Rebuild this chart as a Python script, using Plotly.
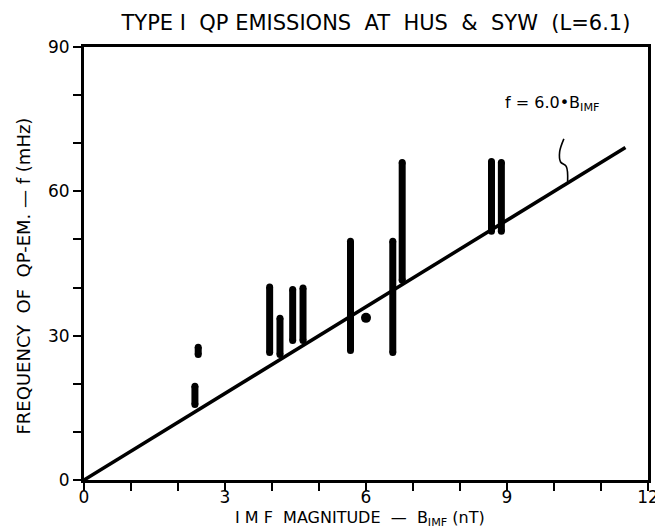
import plotly.graph_objects as go

# ---- data ----
bar_x = [2.36, 2.43, 3.95, 4.17, 4.44, 4.66, 5.67, 6.57, 6.77, 8.67, 8.88]
bar_low = [15.7, 26.1, 26.5, 26.1, 29.0, 29.0, 26.9, 26.5, 41.5, 51.7, 51.7]
bar_high = [19.5, 27.6, 40.1, 33.6, 39.6, 39.9, 49.6, 49.6, 66.0, 66.2, 66.0]
dot_x = [6.0]
dot_f = [33.7]
fit_slope = 6.0
fit_x = [0.0, 11.52]

x_tickvals = [0, 3, 6, 9, 12]
y_tickvals = [0, 30, 60, 90]

FONT = "DejaVu Sans"

fig = go.Figure()

# vertical bars (ranges of frequency)
xs, ys = [], []
for x, lo, hi in zip(bar_x, bar_low, bar_high):
    xs += [x, x, None]
    ys += [lo, hi, None]
fig.add_trace(go.Scatter(x=xs, y=ys, mode="lines",
                         line=dict(color="black", width=7), hoverinfo="skip",
                         showlegend=False))
# round caps
cx, cy = [], []
for x, lo, hi in zip(bar_x, bar_low, bar_high):
    cx += [x, x]
    cy += [lo, hi]
fig.add_trace(go.Scatter(x=cx, y=cy, mode="markers",
                         marker=dict(color="black", size=7, line=dict(width=0)),
                         hoverinfo="skip", showlegend=False))

# single point
fig.add_trace(go.Scatter(x=dot_x, y=dot_f, mode="markers",
                         marker=dict(color="black", size=10, line=dict(width=0)),
                         showlegend=False))

# fit line f = 6.0 * B
fig.add_trace(go.Scatter(x=fit_x, y=[fit_slope * v for v in fit_x], mode="lines",
                         line=dict(color="black", width=3.5), showlegend=False))

# squiggly pointer from the label to the line
sq_x = [10.21, 10.12, 10.14, 10.26, 10.29]
sq_f = [70.9, 68.2, 66.1, 65.2, 62.0]
fig.add_trace(go.Scatter(x=sq_x, y=sq_f, mode="lines",
                         line=dict(color="black", width=1.6, shape="spline"),
                         showlegend=False))

fig.add_annotation(x=9.95, y=78.3, xref="x", yref="y",
                   text="f = 6.0•B<sub>IMF</sub>", showarrow=False,
                   font=dict(family=FONT, size=16, color="black"))

# axis titles as annotations (placed like the reference)
fig.add_annotation(x=0.49, y=0, xref="paper", yref="paper", yshift=-38,
                   xanchor="center", yanchor="middle", showarrow=False,
                   text="I M F  MAGNITUDE  —  B<sub>IMF</sub> (nT)",
                   font=dict(family=FONT, size=16, color="black"))
fig.add_annotation(x=0, y=0.47, xref="paper", yref="paper", xshift=-61,
                   xanchor="center", yanchor="middle", showarrow=False,
                   textangle=-90,
                   text="FREQUENCY  OF  QP-EM. — f (mHz)",
                   font=dict(family=FONT, size=18, color="black"))

fig.update_layout(
    width=663, height=530,
    margin=dict(l=76, r=15, t=39, b=58),
    paper_bgcolor="white", plot_bgcolor="white",
    font=dict(family=FONT, color="black", size=17),
    title=dict(text="TYPE I  QP EMISSIONS  AT  HUS  &  SYW  (L=6.1)",
               x=0.555, xanchor="center", y=0.972, yanchor="middle",
               font=dict(family=FONT, size=21, color="black")),
)

fig.update_xaxes(
    range=[0, 12], tickvals=x_tickvals, ticks="outside", ticklen=8, tickwidth=2,
    tickcolor="black",
    minor=dict(dtick=1, ticks="outside", ticklen=8, tickwidth=2, tickcolor="black"),
    showline=True, linecolor="black", linewidth=3, mirror=True,
    showgrid=False, zeroline=False,
    tickfont=dict(size=17), ticklabelstandoff=-8,
)
fig.update_yaxes(
    range=[0, 90], tickvals=y_tickvals, ticks="outside", ticklen=8, tickwidth=2,
    tickcolor="black",
    minor=dict(dtick=10, ticks="outside", ticklen=8, tickwidth=2, tickcolor="black"),
    showline=True, linecolor="black", linewidth=3, mirror=True,
    showgrid=False, zeroline=False,
    tickfont=dict(size=17),
)

fig.write_html("out.html")
